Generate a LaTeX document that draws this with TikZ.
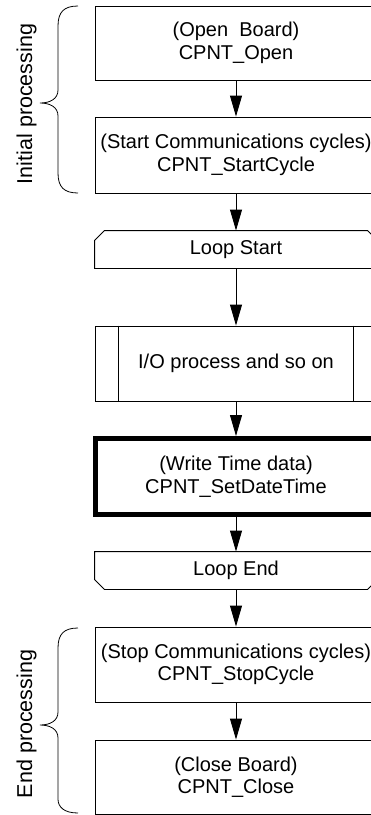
\documentclass[tikz,border=0pt]{standalone}
\usepackage{fontspec}
\setmainfont{Liberation Sans}
\usetikzlibrary{arrows.meta}
\begin{document}
\begin{tikzpicture}[x=1pt,y=-1pt,line width=.9pt,
	blk/.style={draw,minimum width=282pt,inner sep=0pt,align=center,font=\fontsize{20}{22.5}\selectfont},
	loopblk/.style={blk,draw=none,minimum height=37pt},
	lbl/.style={rotate=90,anchor=base,inner sep=0pt,font=\fontsize{21.5}{24}\selectfont},
	arr/.style={-{Triangle[length=21pt,width=12pt]}}]
	\useasboundingbox(0,0)rectangle(371,815);
	\node[blk,minimum height=74pt](open)at(236,43){(Open\ \ Board)\\CPNT\_Open};
	\node[blk,minimum height=76pt](start)at(236,155){(Start Communications cycles)\\CPNT\_StartCycle};
	\node[loopblk](lstart)at(236,249.5){Loop Start};
	\node[blk,minimum height=75pt](io)at(236,363.5){I/O process and so on};
	\node[blk,line width=5pt,minimum height=76pt](wtime)at(236,476.5){(Write Time data)\\CPNT\_SetDateTime};
	\node[loopblk](lend)at(236,570.5){Loop End};
	\node[blk,minimum height=75pt](stop)at(236,664.5){(Stop Communications cycles)\\CPNT\_StopCycle};
	\node[blk,minimum height=74pt](close)at(236,777){(Close Board)\\CPNT\_Close};
	% loop limits and I/O sides
	\draw(lstart.south west)--([yshift=-10pt]lstart.north west)--([xshift=10pt]lstart.north west)--([xshift=-10pt]lstart.north east)--([yshift=-10pt]lstart.north east)--(lstart.south east)--cycle;
	\draw(lend.north west)--([yshift=10pt]lend.south west)--([xshift=10pt]lend.south west)--([xshift=-10pt]lend.south east)--([yshift=10pt]lend.south east)--(lend.north east)--cycle;
	\draw([xshift=24pt]io.north west)--([xshift=24pt]io.south west) ([xshift=-24pt]io.north east)--([xshift=-24pt]io.south east);
	\draw[arr](open)--(start);
	\draw[arr](start)--(lstart);
	\draw[arr](lstart)--(io);
	\draw[arr](io)--(wtime);
	\draw[arr](wtime)--(lend);
	\draw[arr](lend)--(stop);
	\draw[arr](stop)--(close);
	% braces
	\draw[line width=.8pt](78,6)..controls(64,6)and(58,12)..(58,26)--(58,90)..controls(58,99)and(50,103)..(40,103)..controls(50,103)and(58,107)..(58,116)--(58,173)..controls(58,187)and(64,193)..(78,193);
	\draw[line width=.8pt](78,628)..controls(64,628)and(58,634)..(58,648)--(58,712)..controls(58,721)and(50,725)..(40,725)..controls(50,725)and(58,729)..(58,738)--(58,799)..controls(58,807)and(64,813)..(78,813);
	\node[lbl](initlbl)at(32,104){Initial processing};
	\node[lbl](endlbl)at(32,724){End processing};
\end{tikzpicture}
\end{document}
